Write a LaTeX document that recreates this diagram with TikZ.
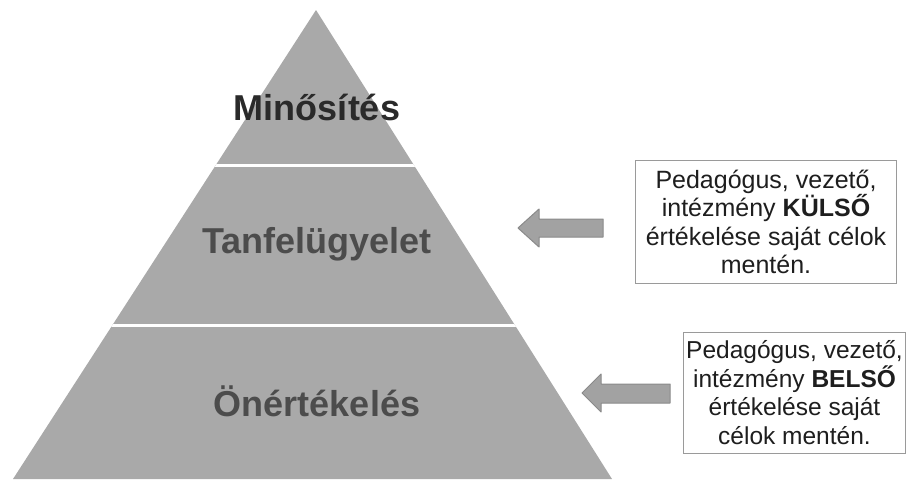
\documentclass[tikz,border=0pt]{standalone}
\usepackage{fontspec}
\setmainfont{Liberation Sans}
\definecolor{pyr}{HTML}{A9A9A9}
\definecolor{lblA}{HTML}{2A2A2A}
\definecolor{lblB}{HTML}{4C4C4C}
\definecolor{arrfill}{HTML}{A2A2A2}
\definecolor{arredge}{HTML}{8A8A8A}
\definecolor{boxedge}{HTML}{9A9A9A}
\definecolor{boxtext}{HTML}{1E1E1E}
\begin{document}
\begin{tikzpicture}[x=1pt,y=-1pt,
  level/.style={font=\fontsize{36}{40}\selectfont\bfseries, text=lblB, inner sep=0pt},
  infobox/.style={draw=boxedge, line width=0.7pt, fill=white, align=center,
    font=\fontsize{25}{28.5}\selectfont, text=boxtext, inner sep=0pt},
  blockarrow/.style={fill=arrfill, draw=arredge, line width=1pt, line join=round}]
\useasboundingbox (0,0) rectangle (907,479);
% pyramid
\path[fill=pyr] (316,10) -- (612,479) -- (13,479) -- cycle;
\begin{scope}
  \clip (316,10) -- (612,479) -- (13,479) -- cycle;
  \draw[white, line width=3pt] (0,165) -- (907,165);
  \draw[white, line width=3pt] (0,325) -- (907,325);
\end{scope}
% level labels
\node[level, text=lblA] (min) at (317,107) {Minősítés};
\node[level] (tan) at (317,244) {Tanfelügyelet};
\node[level] (oner) at (317,401) {Önértékelés};
% boxes
\node[infobox, minimum width=261pt, minimum height=123pt] (kulso) at (766,222)
  {Pedagógus, vezető,\\intézmény \textbf{KÜLSŐ}\\értékelése saját célok\\mentén.};
\node[infobox, minimum width=222pt, minimum height=121pt, font=\fontsize{24.5}{28.5}\selectfont] (belso) at (794.5,392.5)
  {Pedagógus, vezető,\\intézmény \textbf{BELSŐ}\\értékelése saját\\célok mentén.};
% block arrows
\draw[blockarrow] (518,228) -- (539,209) -- (539,219) -- (603,219) -- (603,237) -- (539,237) -- (539,247) -- cycle;
\draw[blockarrow] (582,393) -- (601,374) -- (601,384) -- (670,384) -- (670,403) -- (601,403) -- (601,412) -- cycle;
\end{tikzpicture}
\end{document}
